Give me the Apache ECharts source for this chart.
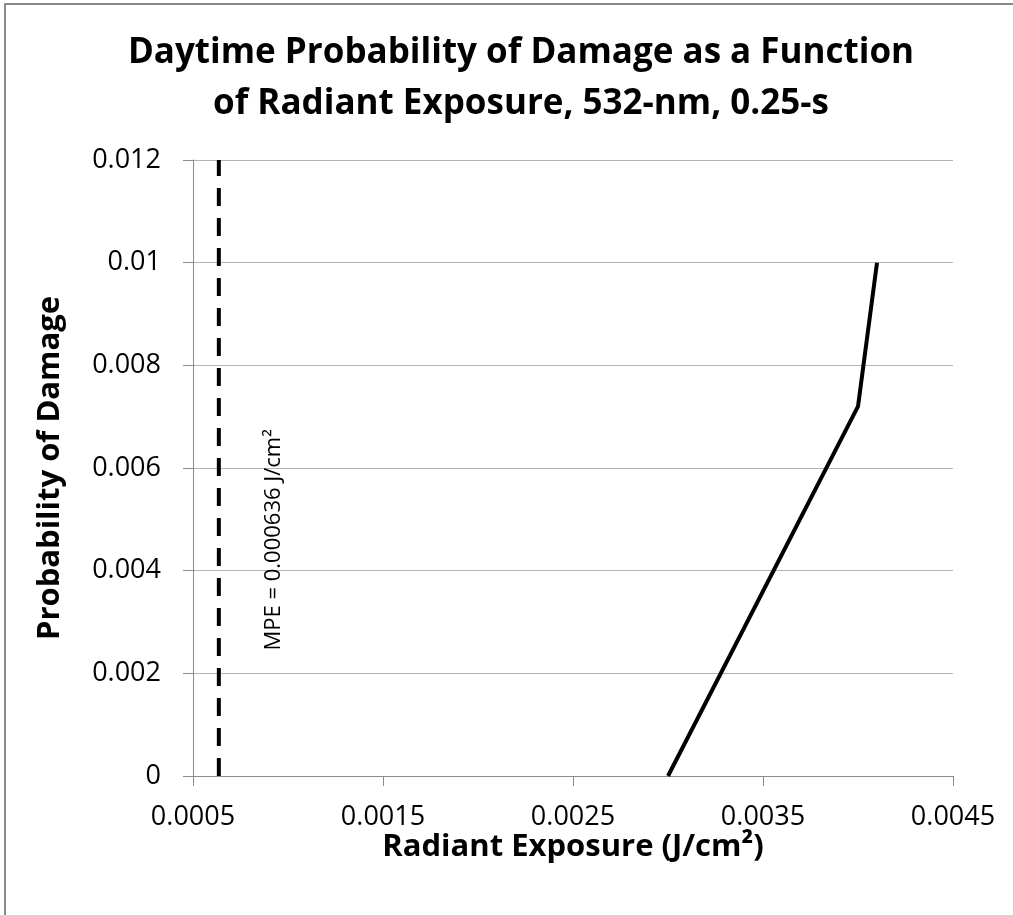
<!DOCTYPE html>
<html>
<head>
<meta charset="utf-8">
<script src="https://cdn.jsdelivr.net/npm/echarts@6/dist/echarts.min.js"></script>
<style>
html,body{margin:0;padding:0;background:#fff;}
#chart{width:1013px;height:915px;}
</style>
</head>
<body>
<div id="chart"></div>
<script>
// Data
const exposure = [0.0030, 0.0040, 0.0041];
const probability = [0.0, 0.0072, 0.010];
const mpeValue = 0.000636;
const mpeLabel = 'MPE = 0.000636 J/cm\u00B2';
const xTickLabels = ['0.0005', '0.0015', '0.0025', '0.0035', '0.0045'];
const yTickLabels = ['0', '0.002', '0.004', '0.006', '0.008', '0.01', '0.012'];
const titleText = 'Daytime Probability of Damage as a Function\nof Radiant Exposure, 532-nm, 0.25-s';
const xName = 'Radiant Exposure (J/cm\u00B2)';
const yName = 'Probability of Damage';

const FONT = '"Open Sans", "Noto Sans", sans-serif';
const chart = echarts.init(document.getElementById('chart'), null, {renderer: 'canvas'});

const option = {
  animation: false,
  backgroundColor: '#fff',
  title: {
    text: titleText,
    left: 516,
    top: 23,
    textAlign: 'center',
    textStyle: {fontFamily: FONT, fontWeight: 'bold', fontSize: 35, lineHeight: 51, color: '#000'}
  },
  grid: {left: 193, right: 60, top: 160, bottom: 139, containLabel: false},
  xAxis: {
    type: 'value', min: 0.0005, max: 0.0045, interval: 0.001,
    name: xName, nameLocation: 'middle', nameGap: 56, nameMoveOverlap: false,
    nameTextStyle: {fontFamily: FONT, fontWeight: 'bold', fontSize: 31, color: '#000'},
    axisLine: {show: true, lineStyle: {color: '#8c8c8c', width: 1}},
    axisTick: {show: true, inside: false, length: 10, lineStyle: {color: '#8c8c8c'}},
    splitLine: {show: false},
    axisLabel: {
      fontFamily: FONT, fontSize: 27, color: '#000', margin: 28,
      formatter: (v, i) => xTickLabels[i] !== undefined ? xTickLabels[i] : ''
    }
  },
  yAxis: {
    type: 'value', min: 0, max: 0.012, interval: 0.002,
    name: yName, nameLocation: 'middle', nameGap: 127, nameRotate: 90,
    nameTextStyle: {fontFamily: FONT, fontWeight: 'bold', fontSize: 31, color: '#000'},
    axisLine: {show: true, lineStyle: {color: '#8c8c8c', width: 1}},
    axisTick: {show: true, inside: false, length: 10, lineStyle: {color: '#8c8c8c'}},
    splitLine: {show: true, lineStyle: {color: '#b4b4b4', width: 1}},
    axisLabel: {
      fontFamily: FONT, fontSize: 27, color: '#000', margin: 32,
      formatter: (v, i) => yTickLabels[i] !== undefined ? yTickLabels[i] : ''
    }
  },
  series: [
    {
      type: 'line',
      data: exposure.map((x, i) => [x, probability[i]]),
      showSymbol: false, symbol: 'none',
      lineStyle: {color: '#000', width: 4},
      z: 3
    },
    {
      type: 'line',
      data: [[mpeValue, 0], [mpeValue, 0.012]],
      showSymbol: false, symbol: 'none',
      lineStyle: {color: '#000', width: 4, type: [18, 12]},
      z: 3
    }
  ]
};
chart.setOption(option);

const p = chart.convertToPixel({xAxisIndex: 0, yAxisIndex: 0}, [mpeValue, 0.0046]);
chart.setOption({
  graphic: [
    {
      type: 'rect', silent: true, z: 100,
      shape: {x: 5, y: 4, width: 1200, height: 1200},
      style: {fill: 'none', stroke: '#8a8a8a', lineWidth: 2}
    },
    {
      type: 'text', silent: true, z: 100,
      x: p[0] + 55, y: p[1], rotation: Math.PI / 2,
      style: {
        text: mpeLabel, fontFamily: FONT, fontSize: 22, fill: '#000',
        align: 'center', verticalAlign: 'middle'
      }
    }
  ]
});
</script>
</body>
</html>
